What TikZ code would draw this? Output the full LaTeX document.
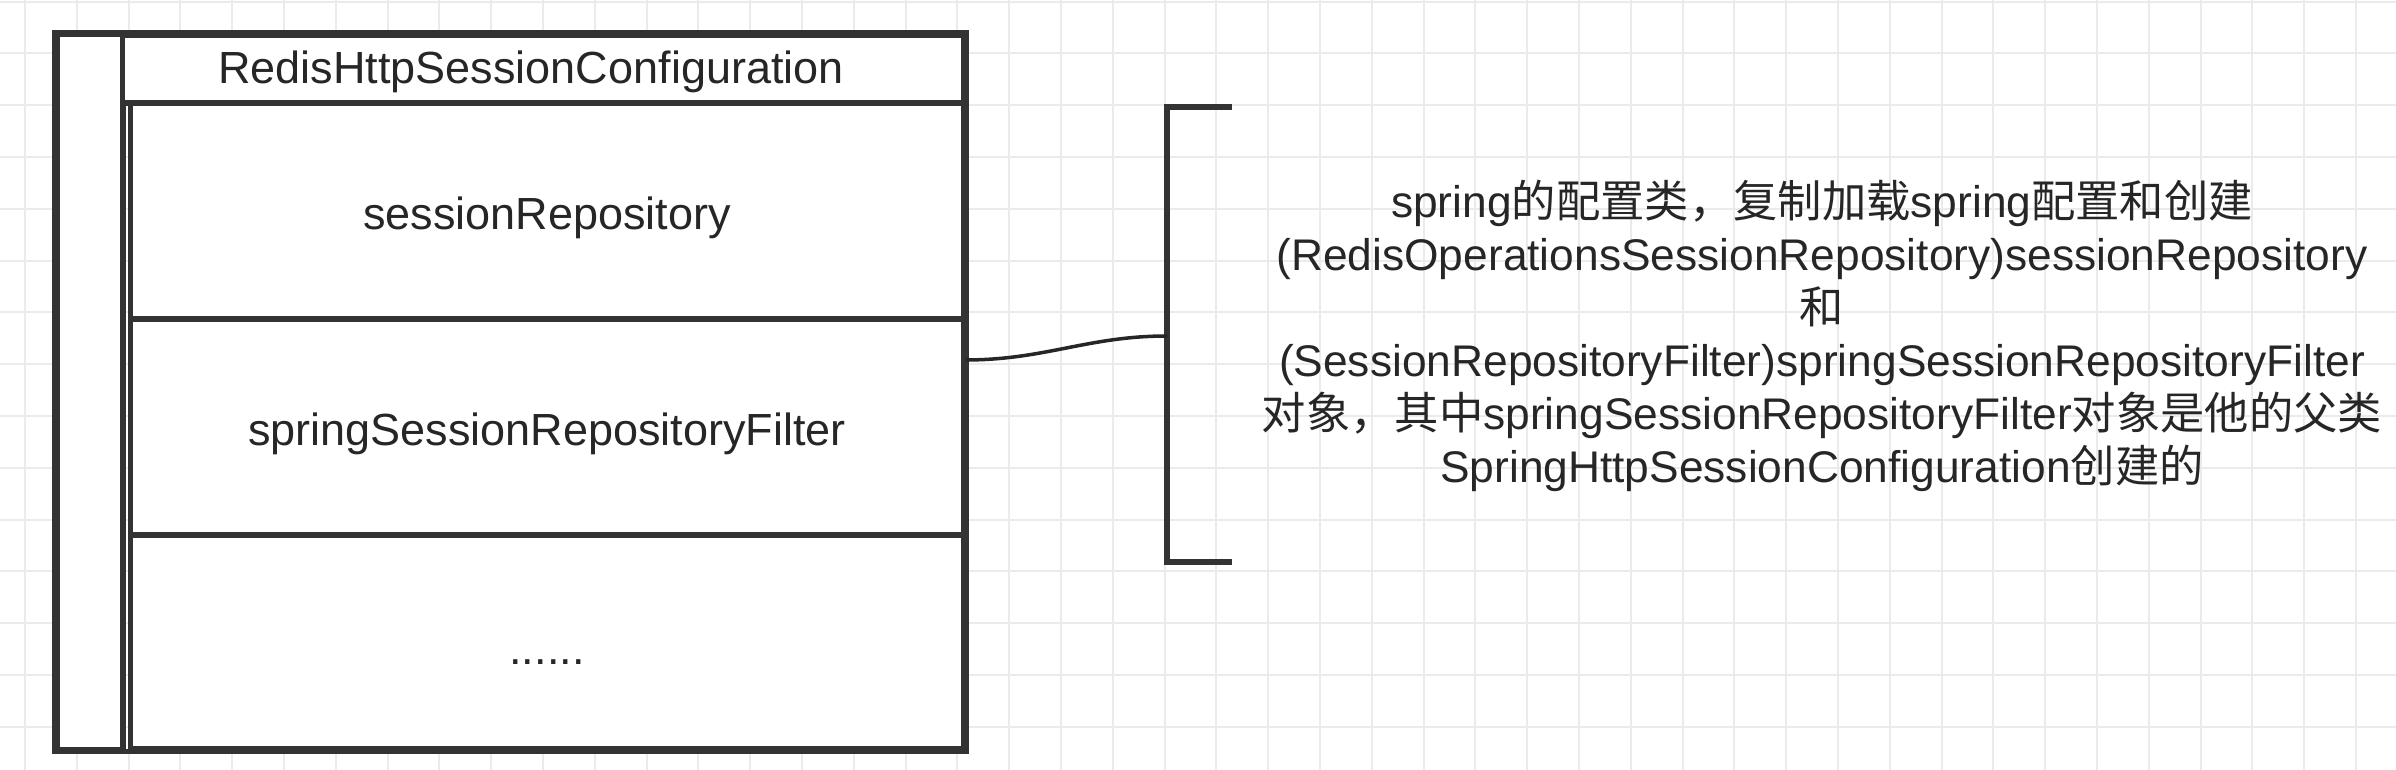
\documentclass[tikz,border=0pt]{standalone}
\usepackage{fontspec}
\setmainfont{Liberation Sans}
\newfontfamily\cjk{Noto Sans CJK SC}
\usetikzlibrary{positioning}

\begin{document}
\begin{tikzpicture}[x=0.01cm, y=-0.01cm,
  every node/.style={font=\fontsize{12.8}{15.1}\selectfont, text=black!85},
  cell/.style={draw=black!80, line width=1.5pt, fill=white, inner sep=0pt, minimum width=8.32cm,
    text height=10.8pt, text depth=0pt},
  gridline/.style={black!8, line width=0.6pt},
  link/.style={black!85, line width=1pt},
  bracket/.style={black!80, line width=1.5pt}]
\useasboundingbox (0,0) rectangle (2396,770);
% background grid
\foreach \i in {0,...,45}
  \draw[gridline] ({25+51.8*\i},0) -- ({25+51.8*\i},770);
\foreach \j in {0,...,14}
  \draw[gridline] (0,{1.6+51.8*\j}) -- (2396,{1.6+51.8*\j});

% configuration class with its beans
\node[cell, minimum width=0.66cm, minimum height=7.14cm] (side) at (90,392) {};
\node[cell, minimum width=8.4cm, minimum height=0.68cm, text height=9.3pt, text depth=0.9pt] (head) at (543,69)
  {\hspace*{-0.24cm}RedisHttpSessionConfiguration};
\node[cell, minimum height=2.16cm] (sess) at (547,211) {sessionRepository};
\node[cell, minimum height=2.16cm] (filter) at (547,427) {springSessionRepositoryFilter};
\node[cell, minimum height=2.14cm, text height=12.8pt] (dots) at (547,642) {......};
\draw[bracket] (side.north west) rectangle (dots.south east);

% annotation
\coordinate (brk) at (1167,336);
\draw[bracket] ([shift={(65,-229)}]brk) -- ++(-65,0) -- ++(0,455) -- ++(65,0);
\draw[link] ([yshift=0.67cm]filter.east) to[out=0, in=180] (brk);
\node[align=center, font=\fontsize{12.6}{15.1}\selectfont] (note) at (1822,336) {%
  spring{\cjk 的配置类，复制加载}spring{\cjk 配置和创建}\\
  (RedisOperationsSessionRepository)sessionRepository\\
  {\cjk 和}\\
  (SessionRepositoryFilter)springSessionRepositoryFilter\\
  {\cjk 对象，其中}springSessionRepositoryFilter{\cjk 对象是他的父类}\\
  SpringHttpSessionConfiguration{\cjk 创建的}};
\end{tikzpicture}
\end{document}
